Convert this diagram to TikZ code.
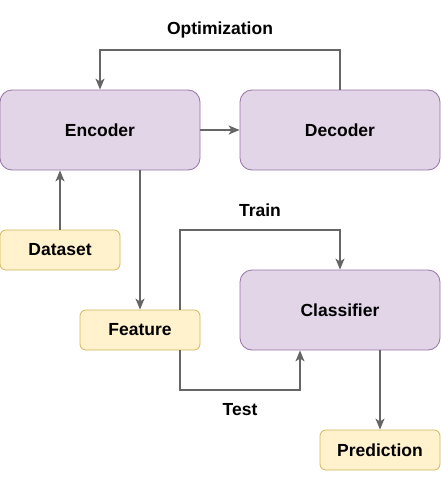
\documentclass[tikz,border=0pt]{standalone}
\usepackage{fontspec}
\setmainfont{Liberation Sans}
\usetikzlibrary{arrows.meta}
\definecolor{pfill}{HTML}{E1D5E7}
\definecolor{pdraw}{HTML}{9673A6}
\definecolor{yfill}{HTML}{FFF2CC}
\definecolor{ydraw}{HTML}{D6B656}
\definecolor{edge}{HTML}{666666}
\begin{document}
\begin{tikzpicture}[x=1pt,y=-1pt,
  bigbox/.style={draw=pdraw,fill=pfill,line width=0.8pt,rounded corners=12pt,minimum width=200pt,minimum height=80pt,inner sep=0pt,font=\fontsize{17.5}{20}\selectfont\bfseries},
  smallbox/.style={draw=ydraw,fill=yfill,line width=0.8pt,rounded corners=6pt,minimum width=120pt,minimum height=40pt,inner sep=0pt,font=\fontsize{17.5}{20}\selectfont\bfseries},
  conn/.style={draw=edge,line width=1.6pt,-{Stealth[length=11pt,width=9pt,inset=3pt]}},
  lbl/.style={font=\fontsize{17.5}{20}\selectfont\bfseries,inner sep=0pt}]
\useasboundingbox (0,0) rectangle (441,480);
\node[bigbox] (enc) at (100,130) {Encoder};
\node[bigbox] (dec) at (340,130) {Decoder};
\node[bigbox] (cls) at (340,310) {Classifier};
\node[smallbox] (data) at (60,250) {Dataset};
\node[smallbox] (feat) at (140,330) {Feature};
\node[smallbox] (pred) at (380,450) {Prediction};
\coordinate (o1) at (340,50);
\coordinate (o2) at (100,50);
\coordinate (t1) at (180,230);
\coordinate (t2) at (340,230);
\coordinate (s1) at (180,390);
\coordinate (s2) at (300,390);
\draw[conn] (dec.north) -- (o1) -- (o2) -- (enc.north);
\draw[conn] (enc.east) -- (dec.west);
\draw[conn] (data.north) -- (enc.south -| data.north);
\draw[conn] (enc.south -| feat.north) -- (feat.north);
\draw[conn] (feat.north -| t1) -- (t1) -- (t2) -- (cls.north);
\draw[conn] (feat.south -| s1) -- (s1) -- (s2) -- (cls.south -| s2);
\draw[conn] (cls.south -| pred.north) -- (pred.north);
\node[lbl] (lopt) at (220,30) {Optimization};
\node[lbl] (ltrain) at (260,210) {Train};
\node[lbl] (ltest) at (240,410) {Test};
\end{tikzpicture}
\end{document}
